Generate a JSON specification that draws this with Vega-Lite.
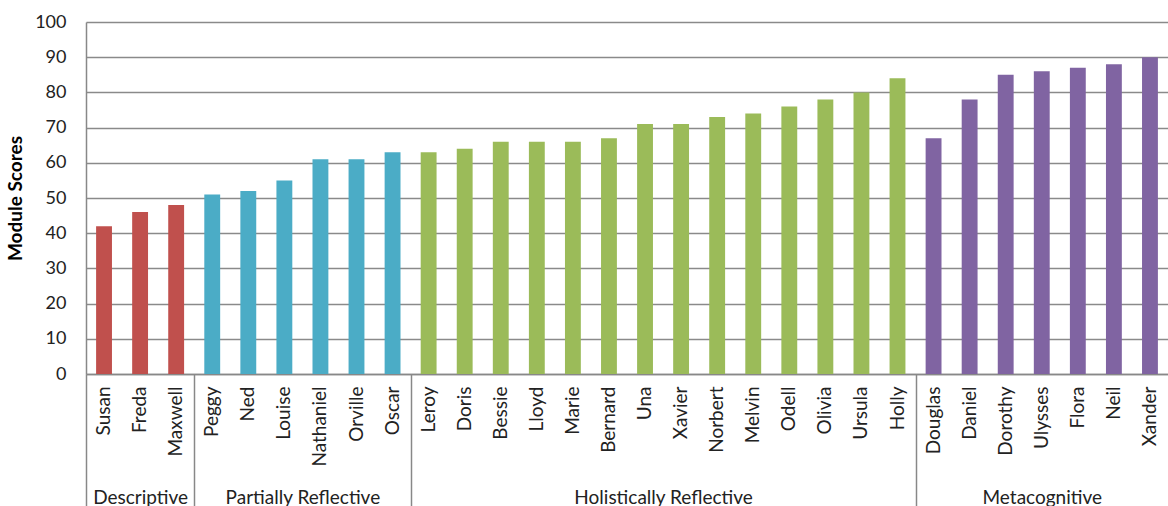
{
  "$schema": "https://vega.github.io/schema/vega-lite/v6.json",
  "width": 1082,
  "height": 352,
  "autosize": {"type": "none"},
  "padding": {"left": 86, "top": 22, "right": 0, "bottom": 132},
  "background": "white",
  "config": {
    "font": "Lato",
    "view": {"stroke": null},
    "axis": {"labelFont": "Lato", "titleFont": "Lato", "labelColor": "#222222", "titleColor": "#000000"}
  },
  "datasets": {
    "scores": [
      {"name": "Susan", "score": 42, "group": "Descriptive"},
      {"name": "Freda", "score": 46, "group": "Descriptive"},
      {"name": "Maxwell", "score": 48, "group": "Descriptive"},
      {"name": "Peggy", "score": 51, "group": "Partially Reflective"},
      {"name": "Ned", "score": 52, "group": "Partially Reflective"},
      {"name": "Louise", "score": 55, "group": "Partially Reflective"},
      {"name": "Nathaniel", "score": 61, "group": "Partially Reflective"},
      {"name": "Orville", "score": 61, "group": "Partially Reflective"},
      {"name": "Oscar", "score": 63, "group": "Partially Reflective"},
      {"name": "Leroy", "score": 63, "group": "Holistically Reflective"},
      {"name": "Doris", "score": 64, "group": "Holistically Reflective"},
      {"name": "Bessie", "score": 66, "group": "Holistically Reflective"},
      {"name": "Lloyd", "score": 66, "group": "Holistically Reflective"},
      {"name": "Marie", "score": 66, "group": "Holistically Reflective"},
      {"name": "Bernard", "score": 67, "group": "Holistically Reflective"},
      {"name": "Una", "score": 71, "group": "Holistically Reflective"},
      {"name": "Xavier", "score": 71, "group": "Holistically Reflective"},
      {"name": "Norbert", "score": 73, "group": "Holistically Reflective"},
      {"name": "Melvin", "score": 74, "group": "Holistically Reflective"},
      {"name": "Odell", "score": 76, "group": "Holistically Reflective"},
      {"name": "Olivia", "score": 78, "group": "Holistically Reflective"},
      {"name": "Ursula", "score": 80, "group": "Holistically Reflective"},
      {"name": "Holly", "score": 84, "group": "Holistically Reflective"},
      {"name": "Douglas", "score": 67, "group": "Metacognitive"},
      {"name": "Daniel", "score": 78, "group": "Metacognitive"},
      {"name": "Dorothy", "score": 85, "group": "Metacognitive"},
      {"name": "Ulysses", "score": 86, "group": "Metacognitive"},
      {"name": "Flora", "score": 87, "group": "Metacognitive"},
      {"name": "Neil", "score": 88, "group": "Metacognitive"},
      {"name": "Xander", "score": 90, "group": "Metacognitive"}
    ],
    "groups": [
      {"group": "Descriptive", "start": 0, "end": 3},
      {"group": "Partially Reflective", "start": 3, "end": 9},
      {"group": "Holistically Reflective", "start": 9, "end": 23},
      {"group": "Metacognitive", "start": 23, "end": 30}
    ]
  },
  "layer": [
    {
      "data": {"name": "scores"},
      "mark": {"type": "bar", "width": {"band": 0.44}},
      "encoding": {
        "x": {
          "field": "name",
          "type": "nominal",
          "sort": null,
          "scale": {"paddingInner": 0, "paddingOuter": 0},
          "axis": {
            "title": null,
            "labelAngle": -90,
            "labelFontSize": 19,
            "labelPadding": 12,
            "ticks": false,
            "domainColor": "#888888",
            "domainWidth": 1.5
          }
        },
        "y": {
          "field": "score",
          "type": "quantitative",
          "scale": {"domain": [0, 100], "nice": false},
          "axis": {
            "title": "Module Scores",
            "titleFontSize": 19,
            "titleFontWeight": "bold",
            "titlePadding": 9,
            "values": [0, 10, 20, 30, 40, 50, 60, 70, 80, 90, 100],
            "labelFontSize": 18,
            "labelPadding": 20,
            "ticks": false,
            "grid": true,
            "gridColor": "#8a8a8a",
            "gridWidth": 1.5,
            "domainColor": "#888888",
            "domainWidth": 1.5
          }
        },
        "color": {
          "field": "group",
          "type": "nominal",
          "scale": {
            "domain": ["Descriptive", "Partially Reflective", "Holistically Reflective", "Metacognitive"],
            "range": ["#C0504D", "#4BACC6", "#9BBB59", "#8064A2"]
          },
          "legend": null
        }
      }
    },
    {
      "data": {"name": "groups"},
      "mark": {"type": "rule", "opacity": 0},
      "encoding": {
        "x": {
          "field": "start",
          "type": "quantitative",
          "scale": {"domain": [0, 30], "nice": false, "zero": false},
          "axis": {
            "orient": "bottom",
            "title": null,
            "domain": false,
            "grid": false,
            "values": [0, 1.5, 3, 6, 9, 16, 23, 26.5],
            "tickSize": 132,
            "tickColor": "#888888",
            "tickWidth": 1.5,
            "tickOpacity": {"condition": {"test": "datum.value == 1.5 || datum.value == 6 || datum.value == 16 || datum.value == 26.5", "value": 0}, "value": 1},
            "labelExpr": "datum.value == 1.5 ? 'Descriptive' : datum.value == 6 ? 'Partially Reflective' : datum.value == 16 ? 'Holistically Reflective' : datum.value == 26.5 ? 'Metacognitive' : ''",
            "labelFontSize": 19,
            "labelBaseline": "middle",
            "labelPadding": -9,
            "labelFlush": false,
            "labelOverlap": false
          }
        }
      }
    }
  ],
  "resolve": {"scale": {"x": "independent"}, "axis": {"x": "independent"}}
}
